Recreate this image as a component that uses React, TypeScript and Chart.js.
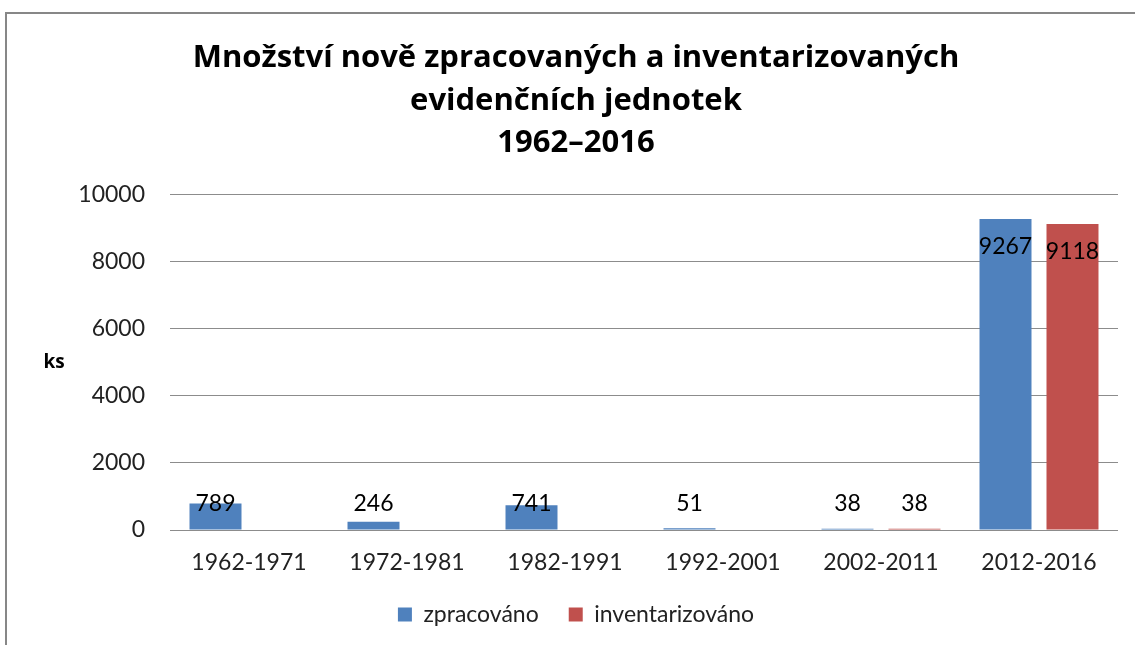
import React, { useEffect, useRef } from "react";
import { Chart, registerables } from "chart.js";

Chart.register(...registerables);

const categories = ["1962-1971", "1972-1981", "1982-1991", "1992-2001", "2002-2011", "2012-2016"];
const zpracovano = [789, 246, 741, 51, 38, 9267];
const inventarizovano = [null, null, null, null, 38, 9118];
const titleLines = ["Množství nově zpracovaných a inventarizovaných", "evidenčních jednotek", "1962–2016"];
const seriesNames = ["zpracováno", "inventarizováno"];
const yAxisTitle = "ks";

const FONT = "Lato, 'Open Sans', sans-serif";
const TITLE_FONT = "'Open Sans', Lato, sans-serif";

const labelPlugin = {
  id: "barLabels",
  afterDatasetsDraw(chart: any) {
    const ctx = chart.ctx;
    ctx.save();
    ctx.font = `23px ${FONT}`;
    ctx.fillStyle = "#000";
    ctx.textAlign = "center";
    ctx.textBaseline = "middle";
    chart.data.datasets.forEach((ds: any, di: number) => {
      const meta = chart.getDatasetMeta(di);
      meta.data.forEach((bar: any, i: number) => {
        const v = ds.data[i];
        if (v === null || v === undefined) return;
        const base = bar.base;
        const y = Math.min(bar.y + 28, base - 26);
        ctx.fillText(String(v), bar.x, y);
      });
    });
    // horizontal axis title "ks"
    ctx.font = `bold 19px ${TITLE_FONT}`;
    ctx.fillStyle = "#000";
    const ca = chart.chartArea;
    ctx.fillText(yAxisTitle, 54, (ca.top + ca.bottom) / 2);
    ctx.restore();
  },
};

export default function App() {
  const ref = useRef<HTMLCanvasElement>(null);
  useEffect(() => {
    if (!ref.current) return;
    const chart = new Chart(ref.current, {
      type: "bar",
      data: {
        labels: categories,
        datasets: [
          { label: seriesNames[0], data: zpracovano, backgroundColor: "#4F81BD" },
          { label: seriesNames[1], data: inventarizovano as any, backgroundColor: "#C0504D" },
        ],
      },
      options: {
        responsive: false,
        animation: false,
        categoryPercentage: 0.848,
        barPercentage: 0.776,
        layout: { padding: { left: 34, right: 17, top: 20, bottom: 9 } },
        plugins: {
          title: {
            display: true,
            text: titleLines,
            color: "#000",
            font: { family: TITLE_FONT, size: 31, weight: "bold", lineHeight: 1.37 },
            padding: { top: 17, bottom: 30 },
          },
          legend: {
            position: "bottom",
            labels: {
              boxWidth: 14,
              boxHeight: 14,
              padding: 30,
              color: "#222",
              font: { family: FONT, size: 23 },
            },
          },
          tooltip: { enabled: false },
        },
        scales: {
          x: {
            grid: { display: false, drawTicks: false },
            border: { display: false },
            ticks: { color: "#222", padding: 19, font: { family: FONT, size: 23 } },
            afterFit: (s: any) => { s.height = 43; },
          },
          y: {
            min: 0,
            max: 10000,
            grid: { color: "#8C8C8C", lineWidth: 1, drawTicks: false },
            border: { display: false },
            ticks: {
              stepSize: 2000,
              color: "#222",
              padding: 25,
              font: { family: FONT, size: 23 },
              callback: (v: any) => String(v),
            },
            afterFit: (s: any) => { s.width = 136; },
          },
        },
      },
      plugins: [labelPlugin],
    });
    return () => chart.destroy();
  }, []);
  return (
    <>
      <div
        style={{
          position: "fixed",
          left: 5,
          top: 12,
          width: 1130,
          height: 633,
          borderLeft: "2px solid #878787",
          borderTop: "2px solid #878787",
          boxSizing: "border-box",
        }}
      />
      <canvas
        ref={ref}
        width={1135}
        height={645}
        style={{ position: "fixed", left: 0, top: 0, width: 1135, height: 645 }}
      />
    </>
  );
}
